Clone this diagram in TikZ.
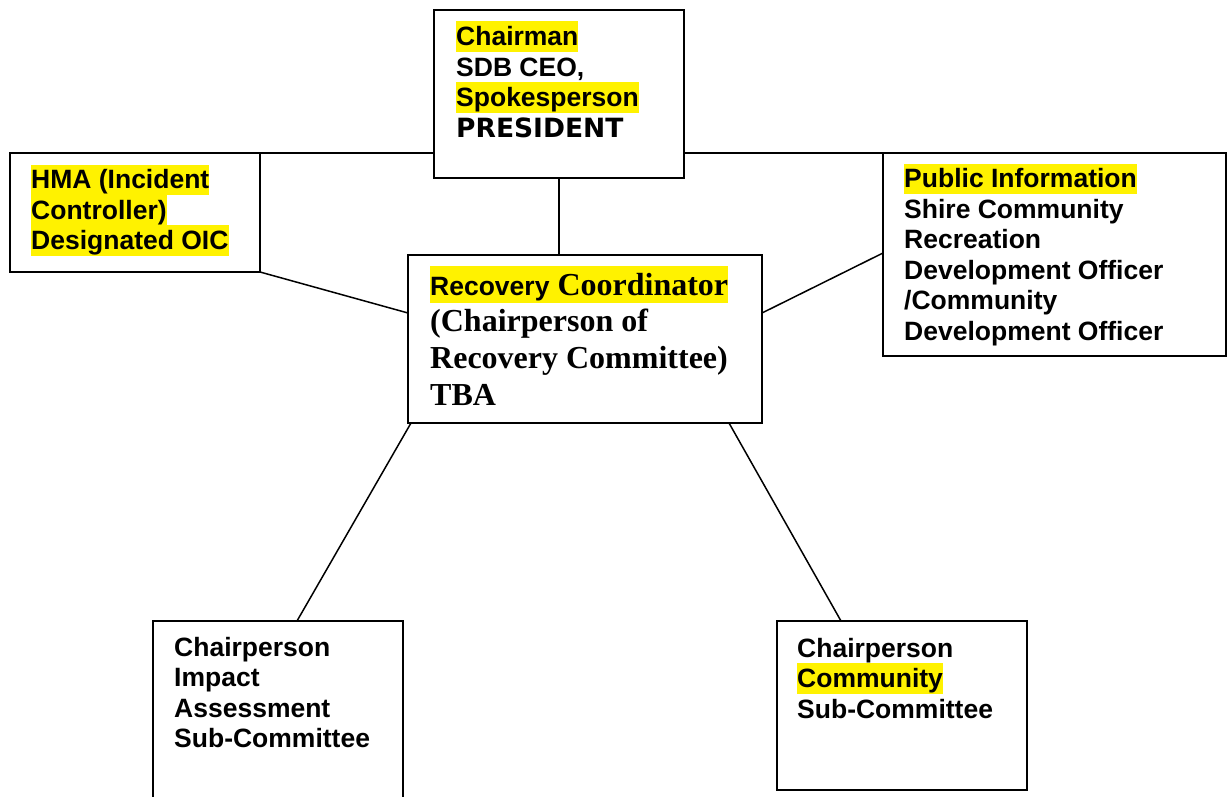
\documentclass[tikz,border=0pt]{standalone}
\usepackage{fontspec}
\setmainfont{Liberation Sans}
\newfontfamily\serifbold{Liberation Serif}
\newfontfamily\widebold{DejaVu Sans}
\usepackage{xcolor}

% yellow marker behind a piece of text: depth, total height, text
\newsavebox\markbox
\newcommand\hl[3]{\sbox\markbox{#3}\smash{\rlap{\textcolor{yellow}{\rule[-#1]{\wd\markbox}{#2}}}}\usebox\markbox}
% left-aligned block of lines whose base is the first line's baseline
\newcommand\lines[1]{\begin{tabular}[t]{@{}l@{}}#1\end{tabular}}

\tikzset{
  box/.style={draw, line width=1.8pt, rectangle, inner sep=0pt, outer sep=0pt, anchor=north west},
  link/.style={line width=1.5pt},
  txt/.style={anchor=base west, inner sep=0pt, font=\bfseries\fontsize{26.5}{30.5}\selectfont},
  sertxt/.style={anchor=base west, inner sep=0pt, font=\bfseries\serifbold\fontsize{32}{36.8}\selectfont},
}

\begin{document}
\begin{tikzpicture}[x=1pt, y=-1pt]
\clip (0,0) rectangle (1227,797);

% boxes
\node[box, minimum width=250pt, minimum height=168pt] (chair) at (434,10) {};
\node[box, minimum width=250pt, minimum height=119pt] (hma)   at (10,153) {};
\node[box, minimum width=343pt, minimum height=203pt] (pub)   at (883,153) {};
\node[box, minimum width=354pt, minimum height=168pt] (coord) at (408,255) {};
\node[box, minimum width=250pt, minimum height=190pt] (imp)   at (153,621) {};
\node[box, minimum width=250pt, minimum height=169pt] (comm)  at (777,621) {};

% texts
\node[txt] (chairtxt) at (456,46) {\lines{%
  \hl{6pt}{30.5pt}{Chairman}\\
  SDB CEO,\\
  \hl{6pt}{30.5pt}{Spokesperson}\\
  {\widebold PRESIDENT}}};

\node[txt] (hmatxt) at (31,189) {\lines{%
  \hl{6pt}{30.5pt}{HMA (Incident}\\
  \hl{6pt}{30.5pt}{Controller)}\\
  \hl{6pt}{30.5pt}{Designated OIC}}};

\node[txt] (pubtxt) at (904,188) {\lines{%
  \hl{6pt}{30.5pt}{Public Information}\\
  Shire Community\\
  Recreation\\
  Development Officer\\
  /Community\\
  Development Officer}};

\node[sertxt] (coordtxt) at (430,295) {\lines{%
  \hl{7.5pt}{36.8pt}{{\rmfamily\fontsize{26.5}{36.8}\selectfont Recovery} Coordinator}\\
  (Chairperson of\\
  Recovery Committee)\\
  TBA}};

\node[txt] (imptxt) at (174,656) {\lines{%
  Chairperson\\
  Impact\\
  Assessment\\
  Sub-Committee}};

\node[txt] (commtxt) at (797,657) {\lines{%
  Chairperson\\
  \hl{6pt}{30.5pt}{Community}\\
  Sub-Committee}};

% connectors
\draw[link] (hma.north east) -- (hma.north east -| chair.west);
\draw[link] (chair.east |- pub.north west) -- (pub.north west);
\draw[link] (chair.south) -- (chair.south |- coord.north);
\draw[link] (hma.south east) -- ([yshift=-58pt]coord.north west);
\draw[link] ([yshift=-58pt]coord.north east) -- ([yshift=-100pt]pub.north west);
\draw[link] ([xshift=3pt]coord.south west) -- ([xshift=19pt]imp.north);
\draw[link] ([xshift=-33pt]coord.south east) -- ([xshift=-61pt]comm.north);
\end{tikzpicture}
\end{document}
